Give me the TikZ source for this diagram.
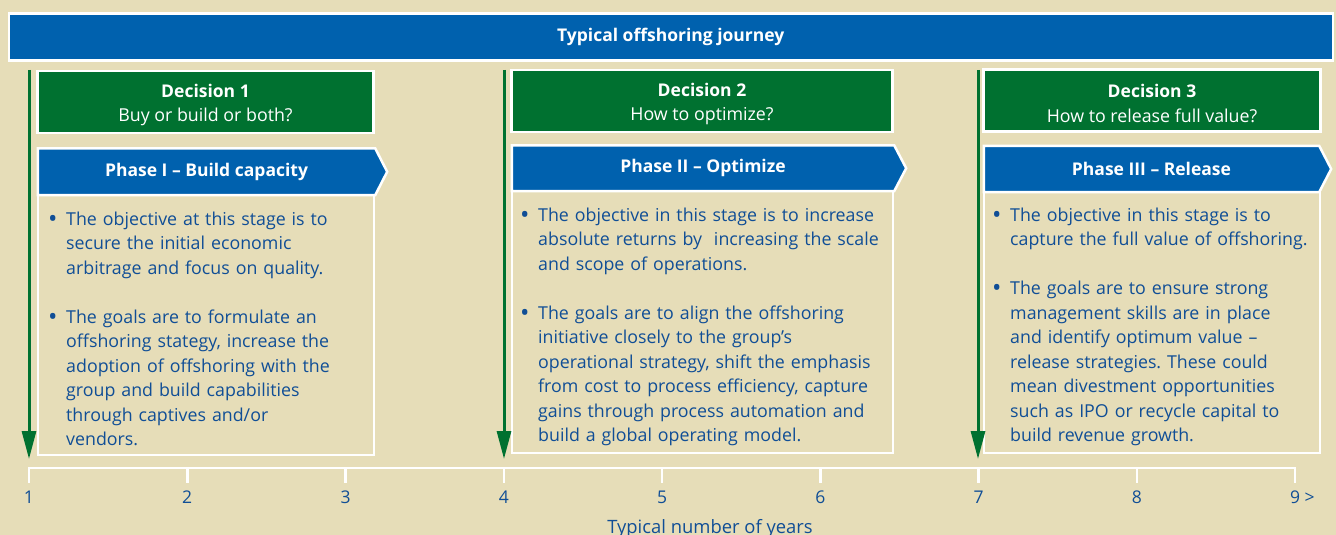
\documentclass[tikz,border=0pt]{standalone}
\usepackage{fontspec}
\setmainfont{Open Sans}
\usetikzlibrary{arrows.meta,backgrounds}
\frenchspacing

\definecolor{paper}{RGB}{230,221,184}
\definecolor{barblue}{RGB}{0,97,174}
\definecolor{decgreen}{RGB}{0,113,48}
\definecolor{textblue}{RGB}{16,78,150}

\newcommand{\bodysize}{\fontsize{17.8}{24.5}\selectfont}
\newcommand{\boldsize}{\fontsize{17.5}{24}\selectfont\bfseries}
\newcommand{\bigdot}{\raisebox{-2.2pt}{\fontsize{25}{24.5}\selectfont\textbullet}}
\newcommand{\bpoint}[1]{\par{\let\\\newline\hangindent=18pt\hangafter=1\noindent\strut\makebox[18pt][l]{\bigdot}#1\par}}
\newcommand{\bgap}{\vspace{24.5pt}}

\tikzset{
  titlebar/.style={fill=barblue, draw=white, line width=2.5pt, text=white, font=\boldsize, minimum width=1324pt, minimum height=47pt, inner sep=0pt},
  decisionbox/.style={fill=decgreen, draw=white, line width=2.5pt, text=white, font=\bodysize, align=center, minimum height=61.5pt, inner sep=0pt},
  phasetext/.style={text=white, font=\boldsize, inner sep=0pt},
  phaseshape/.style={fill=barblue, draw=white, line width=2.5pt, line join=miter},
  textbox/.style={draw=white, line width=2.5pt, inner sep=0pt},
  bodytext/.style={text=textblue, font=\bodysize, align=left, anchor=north west, inner sep=0pt},
  decisionline/.style={draw=decgreen, line width=3pt, -{Triangle[length=28pt,width=14pt]}},
  axisline/.style={draw=white, line width=2.5pt, line join=miter},
  yearlabel/.style={text=textblue, font=\fontsize{17.5}{21}\selectfont, inner sep=0pt}
}

\newcommand{\decisionnode}[5]{\node at (#1) (#2) [decisionbox, minimum width=#3] {\rule{0pt}{19pt}{\boldsize #4}\\#5};}
\newcommand{\phasenode}[5]{%
  \node at (#1) (#2) [phasetext, minimum width=#3, minimum height=#4] {#5};
  \begin{scope}[on background layer]
    \draw [phaseshape] (#2.north west) -- (#2.north east) -- ([xshift=12pt]#2.east) -- (#2.south east) -- (#2.south west) -- cycle;
  \end{scope}}
\newcommand{\textboxnode}[4]{\node at (#1) (#2) [textbox, minimum width=#3, minimum height=#4] {};}

\begin{document}
\begin{tikzpicture}[x=1pt, y=-1pt]

\begin{scope}[on background layer]
\fill [paper] (0,0) rectangle (1336,535);
\end{scope}
\useasboundingbox (0,0) rectangle (1336,535);

\node at (670.75,37) (journey) [titlebar] {Typical offshoring journey};

\decisionnode {205.5,102}{decision1}{336pt}{Decision 1}{Buy or build or both?};
\decisionnode {702,101}{decision2}{381pt}{Decision 2}{How to optimize?};
\decisionnode {1152,100.5}{decision3}{337pt}{Decision 3}{How to release full value?};

\phasenode {206.5,171.75}{phase1}{337pt}{46.5pt}{Phase I -- Build capacity};
\phasenode {703,168.25}{phase2}{382pt}{45.5pt}{Phase II -- Optimize};
\phasenode {1151.5,169}{phase3}{335pt}{46pt}{Phase III -- Release};

\textboxnode {206,325}{box1}{336pt}{260pt};
\textboxnode {702.5,322}{box2}{381pt}{262pt};
\textboxnode {1152,322.5}{box3}{336pt}{261pt};

\node at (48,200.5) (text1) [bodytext, text width=360pt] {%
\bpoint{The objective at this stage is to\\secure the initial economic\\arbitrage and focus on quality.}
\bgap
\bpoint{The goals are to formulate an\\offshoring stategy, increase the\\adoption of offshoring with the\\group and build capabilities\\through captives and/or\\vendors.}};

\node at (520,196.5) (text2) [bodytext, text width=400pt] {%
\bpoint{The objective in this stage is to increase\\absolute returns by\ \ increasing the scale\\and scope of operations.}
\bgap
\bpoint{The goals are to align the offshoring\\initiative closely to the group’s\\operational strategy, shift the emphasis\\from cost to process efficiency, capture\\gains through process automation and\\build a global operating model.}};

\node at (992,196.5) (text3) [bodytext, text width=360pt] {%
\bpoint{The objective in this stage is to\\capture the full value of offshoring.}
\bgap
\bpoint{The goals are to ensure strong\\management skills are in place\\and identify optimum value --\\release strategies. These could\\mean divestment opportunities\\such as IPO or recycle capital to\\build revenue growth.}};

\coordinate (dec1top) at (29,70);
\coordinate (dec1end) at (29,459);
\coordinate (dec2top) at (504,70);
\coordinate (dec2end) at (504,459);
\coordinate (dec3top) at (978,70);
\coordinate (dec3end) at (978,459);
\draw [decisionline] (dec1top) -- (dec1end);
\draw [decisionline] (dec2top) -- (dec2end);
\draw [decisionline] (dec3top) -- (dec3end);

\foreach \n in {1,...,9} {\coordinate (year\n) at ({29+(\n-1)*158.25},468);}
\draw [axisline] ([yshift=-15pt]year1) -- (year1) -- (year9) -- ([yshift=-15pt]year9);
\foreach \n in {2,...,8} {\draw [axisline] (year\n) -- ++(0,15);}
\foreach \n in {1,...,8} {\node at ([yshift=-29pt]year\n) (label\n) [yearlabel] {\n};}
\node at ([yshift=-29pt]year9) (label9) [yearlabel] {9\rlap{ >}};

\node at (710,533) (yearsaxis) [yearlabel, font=\fontsize{18.4}{22}\selectfont, anchor=base] {Typical number of years};

\end{tikzpicture}
\end{document}
